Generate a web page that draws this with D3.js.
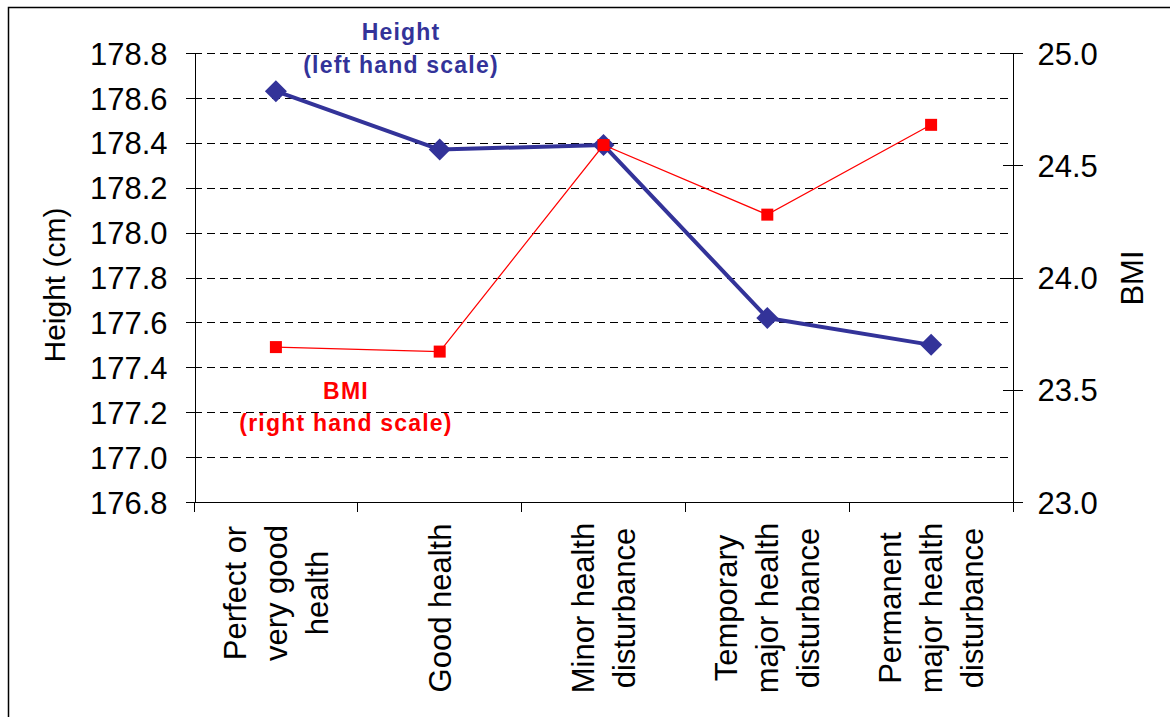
<!DOCTYPE html>
<html>
<head>
<meta charset="utf-8">
<script src="https://cdn.jsdelivr.net/npm/d3@7"></script>
<style>
  html, body { margin: 0; padding: 0; background: #fff; }
  svg { display: block; font-family: "Liberation Sans", Arial, sans-serif; }
</style>
</head>
<body>
<svg id="chart" width="1170" height="717"></svg>
<script>
// Self-rated health groups (label lines as wrapped on the axis)
const categories = [
  "Perfect or very good health",
  "Good health",
  "Minor health disturbance",
  "Temporary major health disturbance",
  "Permanent major health disturbance"
];
const categoryLines = [
  ["Perfect or", "very good", "health"],
  ["Good health"],
  ["Minor health", "disturbance"],
  ["Temporary", "major health", "disturbance"],
  ["Permanent", "major health", "disturbance"]
];

// Mean height (cm), left scale
const heightValues = [178.63, 178.37, 178.39, 177.62, 177.50];
// Mean BMI, right scale
const bmiValues = [23.69, 23.67, 24.59, 24.28, 24.68];

// Axis ticks
const heightTicks = [176.8, 177.0, 177.2, 177.4, 177.6, 177.8, 178.0, 178.2, 178.4, 178.6, 178.8];
const bmiTicks = [23.0, 23.5, 24.0, 24.5, 25.0];

const heightColor = "#333399";
const bmiColor = "#ff0000";

const svg = d3.select("#chart");

// Outer frame
svg.append("rect")
  .attr("x", 8.5).attr("y", 7.5)
  .attr("width", 1200).attr("height", 800)
  .attr("fill", "none").attr("stroke", "#000").attr("stroke-width", 1.5);

const plot = { left: 194, right: 1013, top: 53, bottom: 502 };

const x = d3.scaleBand().domain(categories).range([plot.left, plot.right]).padding(0);
const yH = d3.scaleLinear().domain([176.8, 178.8]).range([plot.bottom, plot.top]);
const yB = d3.scaleLinear().domain([23.0, 25.0]).range([plot.bottom, plot.top]);

// Dashed gridlines at the height ticks
svg.append("g")
  .selectAll("line")
  .data(heightTicks.filter(t => t > 176.85))
  .join("line")
  .attr("x1", plot.left).attr("x2", plot.right)
  .attr("y1", d => Math.round(yH(d)) + 0.5).attr("y2", d => Math.round(yH(d)) + 0.5)
  .attr("stroke", "#000").attr("stroke-width", 1)
  .attr("stroke-dasharray", "8,5");

// Left axis (height)
const leftAxis = svg.append("g")
  .attr("transform", `translate(${plot.left + 0.5},0)`)
  .call(d3.axisLeft(yH).tickValues(heightTicks).tickFormat(d3.format(".1f"))
    .tickSizeInner(9).tickSizeOuter(0).tickPadding(18));
leftAxis.selectAll("text").attr("font-size", 31).attr("fill", "#000")
  .attr("font-family", "Liberation Sans, Arial, sans-serif").attr("dy", "0.36em");
leftAxis.selectAll("line, path").attr("stroke", "#000").attr("shape-rendering", "crispEdges");

// Right axis (BMI), ticks cross the axis line
const rightAxis = svg.append("g")
  .attr("transform", `translate(${plot.right - 0.5},0)`)
  .call(d3.axisRight(yB).tickValues(bmiTicks).tickFormat(d3.format(".1f"))
    .tickSizeInner(10).tickSizeOuter(0).tickPadding(15));
rightAxis.selectAll(".tick line").attr("x1", -10);
rightAxis.selectAll("text").attr("font-size", 31).attr("fill", "#000")
  .attr("font-family", "Liberation Sans, Arial, sans-serif").attr("dy", "0.36em");
rightAxis.selectAll("line, path").attr("stroke", "#000").attr("shape-rendering", "crispEdges");

// Bottom axis with ticks at category boundaries
const boundaries = categories.map(c => x(c)).concat([x.range()[1]]);
const bottom = svg.append("g").attr("shape-rendering", "crispEdges");
bottom.append("line")
  .attr("x1", plot.left).attr("x2", plot.right)
  .attr("y1", plot.bottom + 0.5).attr("y2", plot.bottom + 0.5)
  .attr("stroke", "#000");
bottom.selectAll("line.tick")
  .data(boundaries)
  .join("line")
  .attr("class", "tick")
  .attr("x1", d => d).attr("x2", d => d)
  .attr("y1", plot.bottom).attr("y2", plot.bottom + 10)
  .attr("stroke", "#000");

// Rotated category labels
const lineGap = 41;
const labelMid = [593, 608, 608, 608, 608];
const labels = svg.append("g").attr("font-size", 31).attr("fill", "#000");
categoryLines.forEach((lines, i) => {
  const cx = x(categories[i]) + x.bandwidth() / 2;
  lines.forEach((txt, j) => {
    const bx = cx + 11 + (j - (lines.length - 1) / 2) * lineGap;
    labels.append("text")
      .attr("transform", `translate(${bx},${labelMid[i]}) rotate(-90)`)
      .attr("text-anchor", "middle")
      .text(txt);
  });
});

// Axis titles
svg.append("text")
  .attr("transform", `translate(65,285) rotate(-90)`)
  .attr("text-anchor", "middle").attr("font-size", 30).attr("fill", "#000")
  .text("Height (cm)");
svg.append("text")
  .attr("transform", `translate(1143,278) rotate(-90)`)
  .attr("text-anchor", "middle").attr("font-size", 31).attr("fill", "#000")
  .text("BMI");

// Height series
const cx = c => x(c) + x.bandwidth() / 2;
const heightLine = d3.line().x((d, i) => cx(categories[i])).y(d => yH(d));
svg.append("path")
  .datum(heightValues)
  .attr("d", heightLine)
  .attr("fill", "none").attr("stroke", heightColor).attr("stroke-width", 4)
  .attr("stroke-linejoin", "round");
svg.append("g")
  .selectAll("path")
  .data(heightValues)
  .join("path")
  .attr("transform", (d, i) => `translate(${cx(categories[i])},${yH(d)})`)
  .attr("d", "M0,-11L11,0L0,11L-11,0Z")
  .attr("fill", heightColor);

// BMI series
const bmiLine = d3.line().x((d, i) => cx(categories[i])).y(d => yB(d));
svg.append("path")
  .datum(bmiValues)
  .attr("d", bmiLine)
  .attr("fill", "none").attr("stroke", bmiColor).attr("stroke-width", 1.2);
svg.append("g")
  .selectAll("rect")
  .data(bmiValues)
  .join("rect")
  .attr("x", (d, i) => cx(categories[i]) - 6)
  .attr("y", d => yB(d) - 6)
  .attr("width", 12).attr("height", 12)
  .attr("fill", bmiColor);

// Series annotations
const note = svg.append("g").attr("font-weight", "bold").attr("font-size", 23)
  .attr("text-anchor", "middle").attr("letter-spacing", 1.2);
note.append("text").attr("x", 401).attr("y", 40).attr("fill", heightColor).text("Height");
note.append("text").attr("x", 401).attr("y", 73).attr("fill", heightColor).text("(left hand scale)");
note.append("text").attr("x", 346).attr("y", 399).attr("fill", bmiColor).text("BMI");
note.append("text").attr("x", 346).attr("y", 431).attr("fill", bmiColor).text("(right hand scale)");
</script>
</body>
</html>
